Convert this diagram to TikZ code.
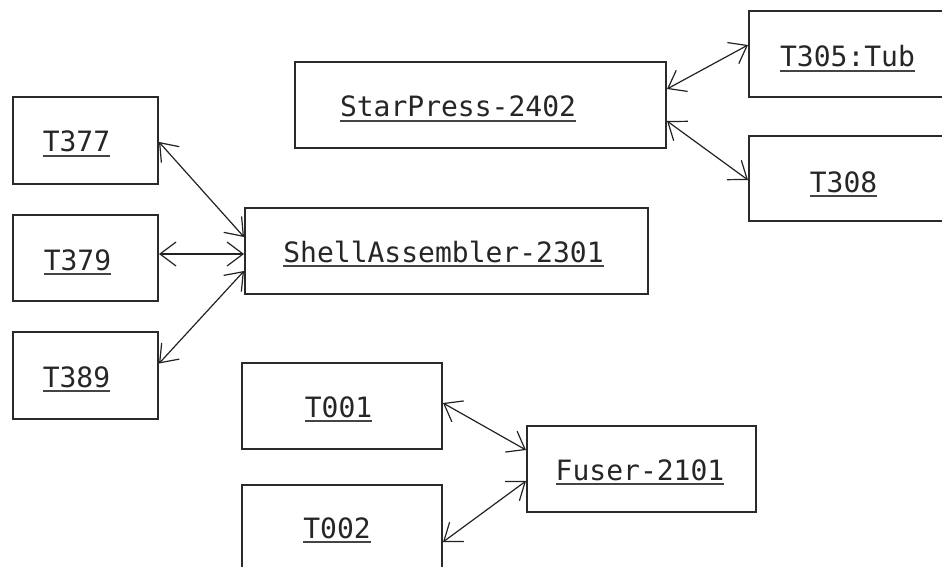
\documentclass[tikz,border=0pt]{standalone}
\usepackage{fontspec}
\setmonofont{DejaVu Sans Mono}
\usetikzlibrary{arrows.meta}
\definecolor{boxc}{HTML}{2A2A2A}
\definecolor{txtc}{HTML}{262626}
\definecolor{ulc}{HTML}{444444}
\definecolor{linec}{HTML}{222222}
\newcommand{\myul}[1]{\setbox0\hbox{#1}\rlap{\color{ulc}\rule[-2.4pt]{\wd0}{1pt}}\box0}
\begin{document}
\begin{tikzpicture}[x=0.5pt,y=-0.5pt,
  box/.style={draw=boxc, line width=1pt, fill=white, inner sep=0pt},
  lbl/.style={font=\ttfamily\fontsize{14}{16}\selectfont, text=txtc, inner sep=0pt, anchor=base},
  link/.style={{Straight Barb[length=8pt,width=12pt]}-{Straight Barb[length=8pt,width=12pt]}, line width=0.6pt, draw=linec}]
\useasboundingbox (0,0) rectangle (942,567);
\clip (0,0) rectangle (942,567);
% boxes
\node[box, minimum width=72.5pt, minimum height=43.5pt] (t377) at (85.5,140.5) {};
\node[box, minimum width=72.5pt, minimum height=43pt] (t379) at (85.5,258) {};
\node[box, minimum width=72.5pt, minimum height=43.5pt] (t389) at (85.5,375.5) {};
\node[box, minimum width=201.5pt, minimum height=43pt] (sa) at (446.5,251) {};
\node[box, minimum width=185.5pt, minimum height=43pt] (sp) at (480.5,105) {};
\node[box, minimum width=110pt, minimum height=43pt] (t305) at (859,54) {};
\node[box, minimum width=110pt, minimum height=42.5pt] (t308) at (859,178.5) {};
\node[box, minimum width=100pt, minimum height=43pt] (t001) at (342,406) {};
\node[box, minimum width=100pt, minimum height=47pt] (t002) at (342,532) {};
\node[box, minimum width=114.5pt, minimum height=43pt] (fu) at (641.5,469) {};
% labels
\node[lbl] (l377) at (76.5,152) {\myul{T377}};
\node[lbl] (l379) at (77.5,270) {\myul{T379}};
\node[lbl] (l389) at (76.5,387) {\myul{T389}};
\node[lbl] (lsa) at (443.5,262) {\myul{ShellAssembler-2301}};
\node[lbl] (lsp) at (458,117) {\myul{StarPress-2402}};
\node[lbl] (l305) at (847.5,67) {\myul{T305:Tub}};
\node[lbl] (l308) at (843.5,192) {\myul{T308}};
\node[lbl] (l001) at (338.5,417) {\myul{T001}};
\node[lbl] (l002) at (337,538) {\myul{T002}};
\node[lbl] (lfu) at (640,480) {\myul{Fuser-2101}};
% connectors
\draw[link] ([yshift=-0.75pt]t377.east) -- ([yshift=7pt]sa.west);
\draw[link] ([yshift=2pt]t379.east) -- ([yshift=-1.5pt]sa.west);
\draw[link] ([yshift=6pt]t389.east) -- ([yshift=-10pt]sa.west);
\draw[link] ([yshift=8pt]sp.east) -- ([yshift=4.5pt]t305.west);
\draw[link] ([yshift=-8pt]sp.east) -- ([yshift=-0.75pt]t308.west);
\draw[link] ([yshift=1.5pt]t001.east) -- ([yshift=9.5pt]fu.west);
\draw[link] ([yshift=-5pt]t002.east) -- ([yshift=-6pt]fu.west);
\end{tikzpicture}
\end{document}
